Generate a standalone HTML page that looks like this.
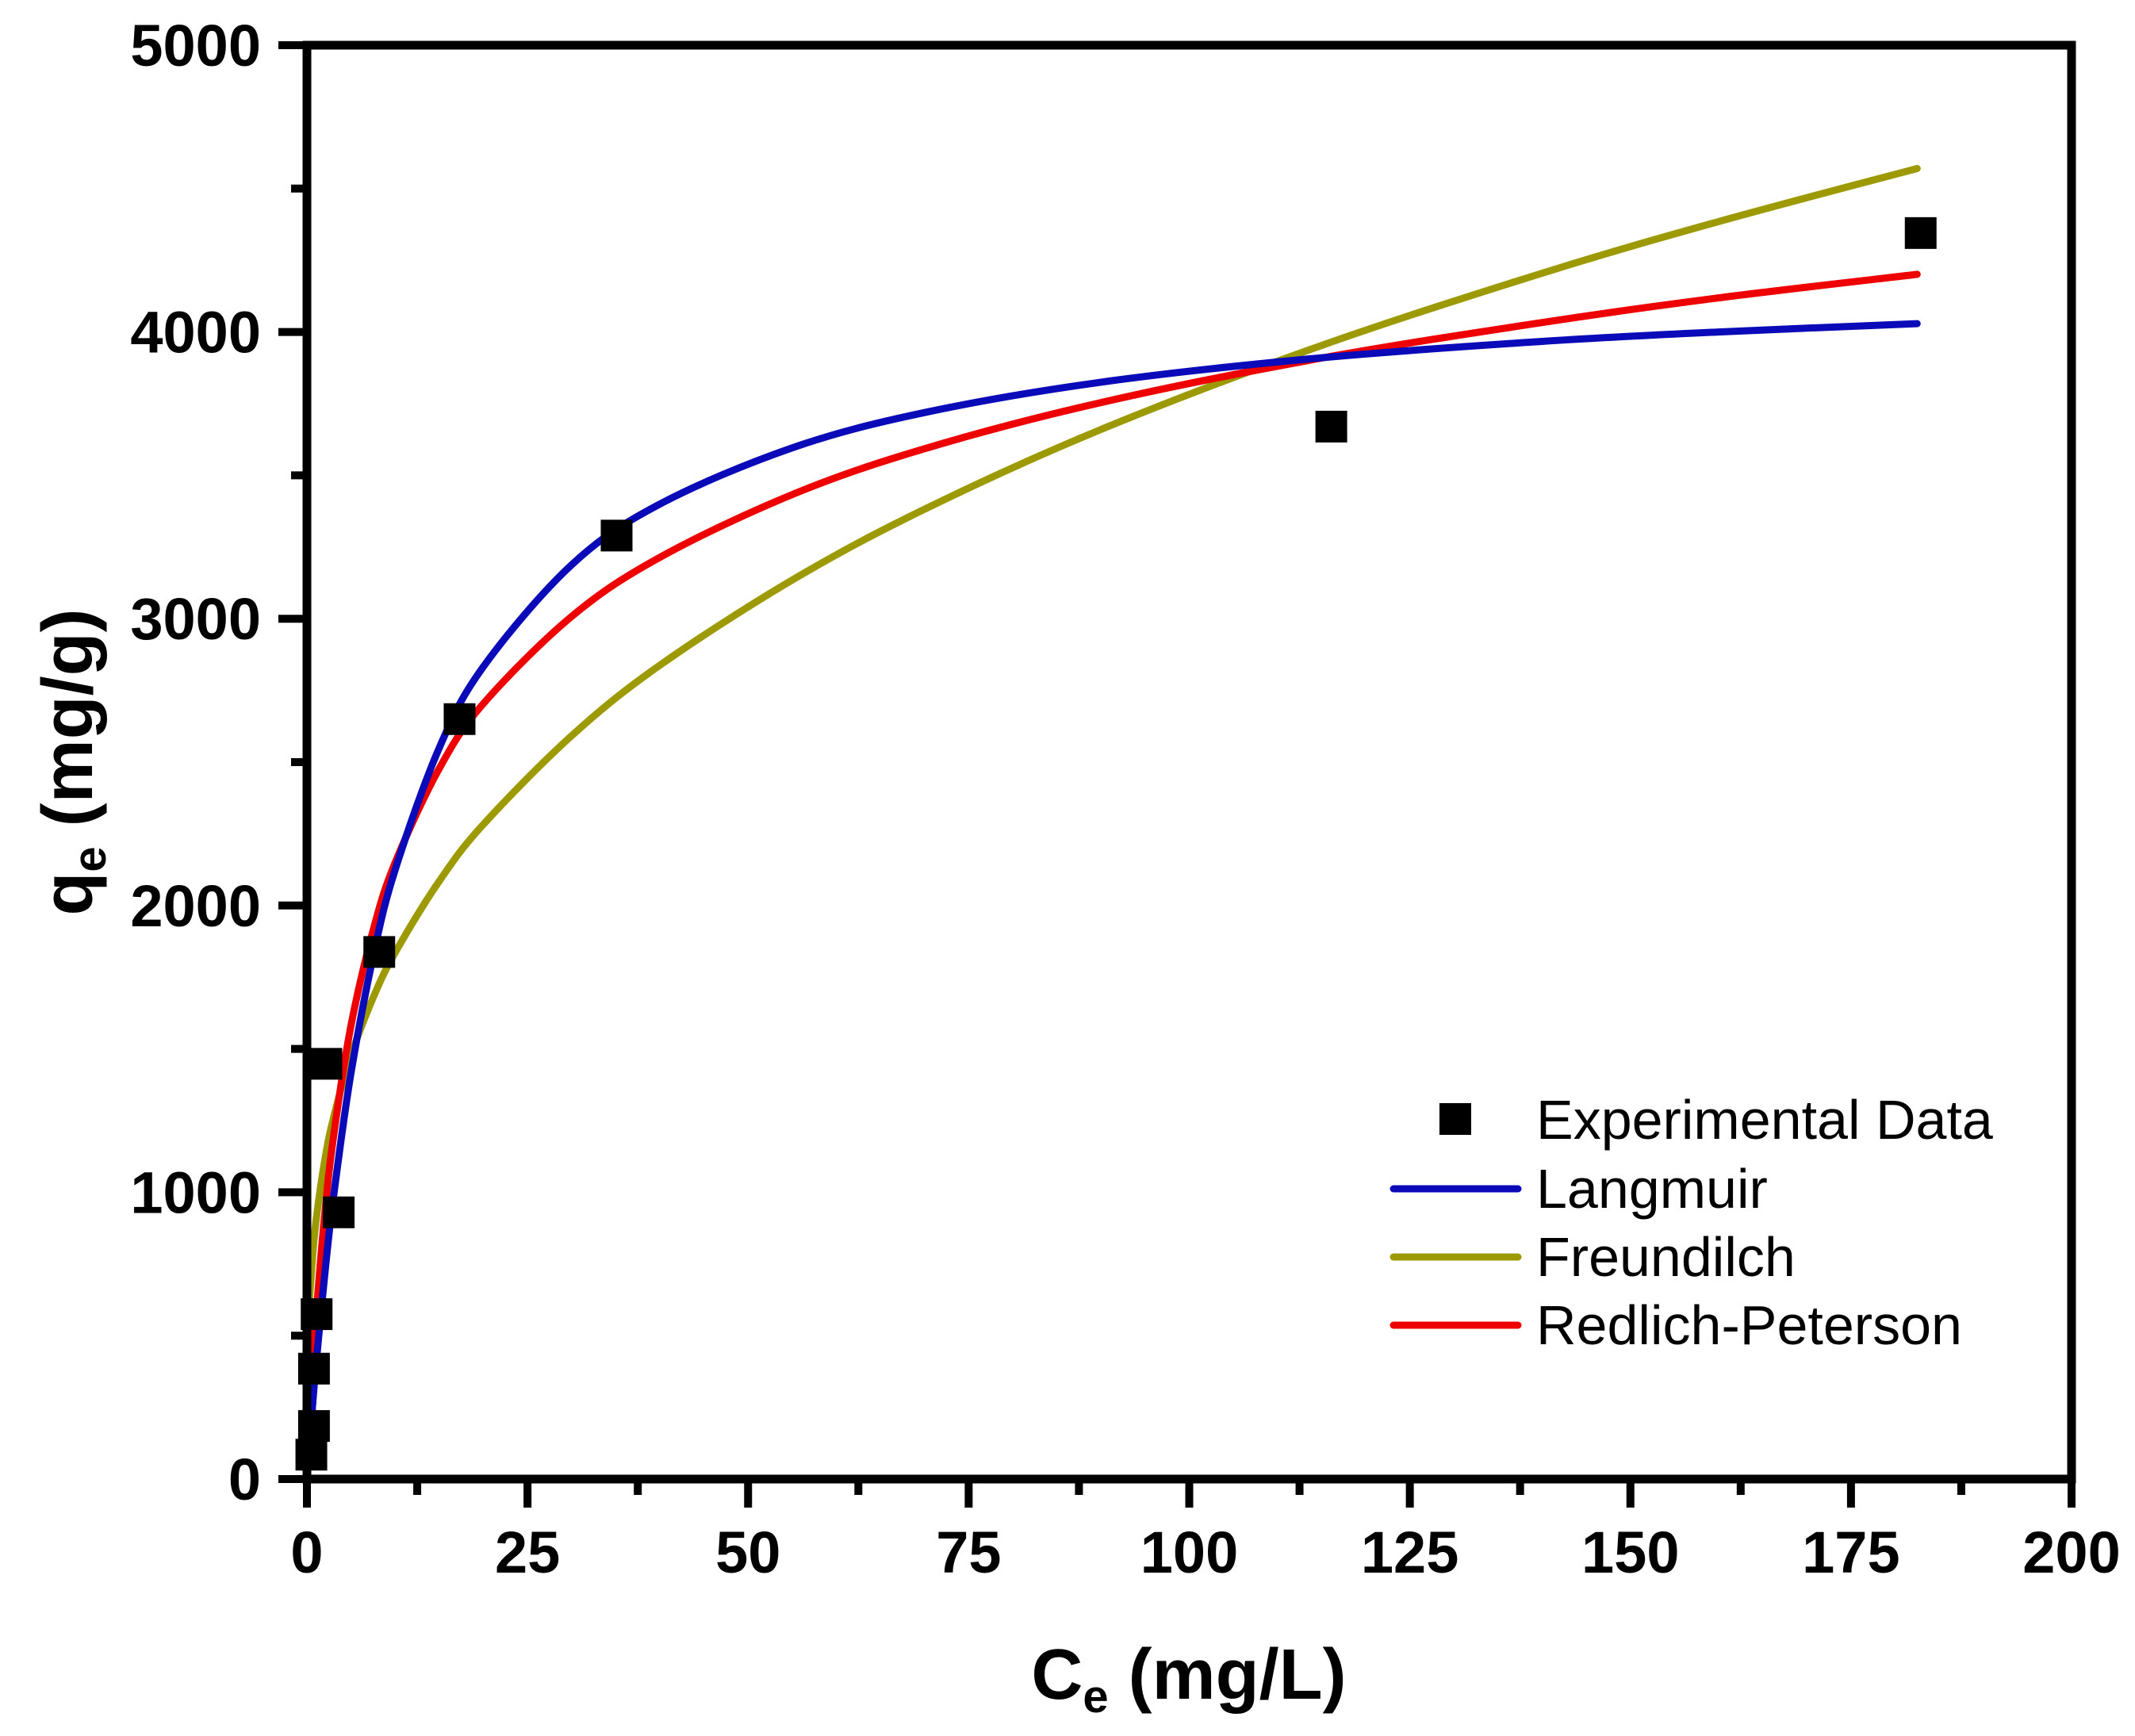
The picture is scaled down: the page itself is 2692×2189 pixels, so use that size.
<!DOCTYPE html>
<html><head><meta charset="utf-8"><style>
html,body{margin:0;padding:0;background:#fff;}
svg{display:block;font-family:"Liberation Sans",Arial,sans-serif;}
</style></head><body>
<svg id="chart" width="2692" height="2189" viewBox="0 0 2692 2189" xmlns="http://www.w3.org/2000/svg">
<g id="plot"></g>
</svg>
<script>
const xTicks=[0,25,50,75,100,125,150,175,200];
const yTicks=[0,1000,2000,3000,4000,5000];
const expC=[0.5,0.8,0.8,1.1,3.6,2.2,8.2,17.3,35.1,116.1,182.9];
const expQ=[85,185,385,575,930,1448,1838,2650,3290,3670,4345];
const curveC=[0,0.2,0.5,1,2,3,5,7.5,10,15,20,30,40,55,70,90,115,140,160,182.5];
const langmuirQ=[0,83,202,386,708,981,1417,1821,2125,2550,2833,3188,3400,3596,3719,3825,3910,3967,4000,4029];
const freundlichQ=[0,538,717,891,1108,1258,1477,1678,1836,2085,2283,2592,2838,3135,3382,3660,3953,4205,4385,4570];
const redlichQ=[0,134,309,551,918,1191,1582,1913,2150,2478,2704,3008,3214,3433,3593,3754,3909,4033,4119,4201];

const X0=387,X1=2612,Y0=1865,Y1=57;
const sx=v=>X0+(v-0)/(200-0)*(X1-X0);
const sy=v=>Y0-(v-0)/(5000-0)*(Y0-Y1);
const NS="http://www.w3.org/2000/svg";
const g=document.getElementById('plot');
function mk(t,a){const e=document.createElementNS(NS,t);for(const k in a)e.setAttribute(k,a[k]);g.appendChild(e);return e;}

function curve(arr,color,name){
  const P=curveC.map((c,i)=>[sx(c),sy(arr[i])]);
  let d='M'+P[0][0].toFixed(1)+','+P[0][1].toFixed(1);
  for(let i=0;i<P.length-1;i++){
    const p0=P[Math.max(i-1,0)],p1=P[i],p2=P[i+1],p3=P[Math.min(i+2,P.length-1)];
    const c1=[p1[0]+(p2[0]-p0[0])/6,p1[1]+(p2[1]-p0[1])/6];
    const c2=[p2[0]-(p3[0]-p1[0])/6,p2[1]-(p3[1]-p1[1])/6];
    d+='C'+c1[0].toFixed(1)+','+c1[1].toFixed(1)+' '+c2[0].toFixed(1)+','+c2[1].toFixed(1)+' '+p2[0].toFixed(1)+','+p2[1].toFixed(1);
  }
  const p=mk('path',{d:d,fill:'none',stroke:color,'stroke-width':9,'stroke-linejoin':'round','stroke-linecap':'round'});
  
  
}
curve(freundlichQ,'#9c9a00','freundlich-curve');
curve(redlichQ,'#ee0000','redlich-peterson-curve');
curve(langmuirQ,'#0a0ab8','langmuir-curve');

expC.forEach((c,i)=>{
  const r=mk('rect',{x:sx(c)-20,y:sy(expQ[i])-20,width:40,height:40,fill:'#000'});
  
  
});

const fr=mk('rect',{x:X0,y:Y1,width:X1-X0,height:Y0-Y1,fill:'none',stroke:'#000','stroke-width':11});



xTicks.forEach((v,i)=>{
  const x=sx(v);
  const t=mk('line',{x1:x,y1:Y0,x2:x,y2:Y0+36,stroke:'#000','stroke-width':10});
  
  
  const l=mk('text',{x:x,y:Y0+118,'text-anchor':'middle','font-size':74,'font-weight':'bold',fill:'#000'});
  l.textContent=v;
  
  
  if(i<xTicks.length-1){
    const m=sx(v+12.5);
    const mt=mk('line',{x1:m,y1:Y0,x2:m,y2:Y0+20,stroke:'#000','stroke-width':10});
    
    
  }
});
yTicks.forEach((v,i)=>{
  const y=sy(v);
  const t=mk('line',{x1:X0,y1:y,x2:X0-36,y2:y,stroke:'#000','stroke-width':10});
  
  
  const l=mk('text',{x:X0-58,y:y+26,'text-anchor':'end','font-size':74,'font-weight':'bold',fill:'#000'});
  l.textContent=v;
  
  
  if(i<yTicks.length-1){
    const m=sy(v+500);
    const mt=mk('line',{x1:X0,y1:m,x2:X0-20,y2:m,stroke:'#000','stroke-width':10});
    
    
  }
});
</script>
<svg style="position:absolute;left:0;top:0" width="2692" height="2189" xmlns="http://www.w3.org/2000/svg" font-family="Liberation Sans, Arial, sans-serif">
<text x="1499" y="2142" text-anchor="middle" font-size="90" font-weight="bold">C<tspan font-size="58" dy="17">e</tspan><tspan dy="-17"> (mg/L)</tspan></text>
<text transform="translate(116,961) rotate(-90)" text-anchor="middle" font-size="90" font-weight="bold">q<tspan font-size="58" dy="17">e</tspan><tspan dy="-17"> (mg/g)</tspan></text>
<g font-size="70">
<rect x="1815" y="1391" width="40" height="40" fill="#000"/>
<text x="1937" y="1436">Experimental Data</text>
<line x1="1757" y1="1499" x2="1914" y2="1499" stroke="#0a0ab8" stroke-width="9" stroke-linecap="round"/>
<text x="1937" y="1523">Langmuir</text>
<line x1="1757" y1="1585" x2="1914" y2="1585" stroke="#9c9a00" stroke-width="9" stroke-linecap="round"/>
<text x="1937" y="1609">Freundilch</text>
<line x1="1757" y1="1671" x2="1914" y2="1671" stroke="#ee0000" stroke-width="9" stroke-linecap="round"/>
<text x="1937" y="1695">Redlich-Peterson</text>
</g>
</svg>
</body></html>
